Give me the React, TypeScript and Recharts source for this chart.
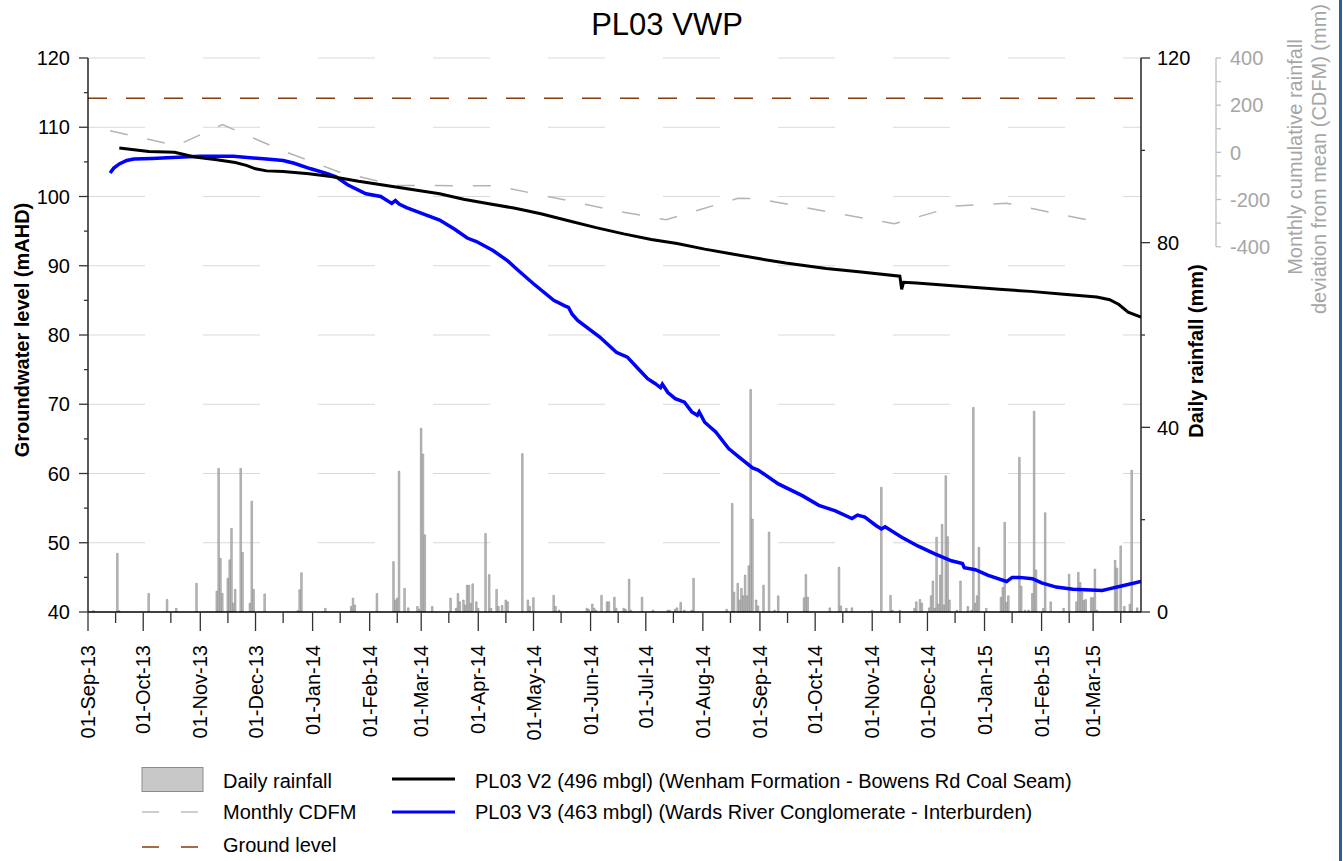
import React from "react";
import {
  ComposedChart,
  Bar,
  Line,
  XAxis,
  YAxis,
  CartesianGrid,
  ReferenceLine,
} from "recharts";

const FONT = "'Liberation Sans', Arial, Helvetica, sans-serif";

// x values are days counted from 01-Sep-13
const TICK_LABELS = [
  "01-Sep-13", "01-Oct-13", "01-Nov-13", "01-Dec-13", "01-Jan-14", "01-Feb-14",
  "01-Mar-14", "01-Apr-14", "01-May-14", "01-Jun-14", "01-Jul-14", "01-Aug-14",
  "01-Sep-14", "01-Oct-14", "01-Nov-14", "01-Dec-14", "01-Jan-15", "01-Feb-15",
  "01-Mar-15",
];
const LAST_DAY = 572;

const GROUND_LEVEL = 114.2;

// daily rainfall (mm): [day, mm]
const RAIN: [number, number][] = [
  [3, 0.3], [16, 12.7], [17, 0.3], [33, 4.0], [43, 2.7], [48, 0.8], [59, 6.2],
  [70, 4.5], [71, 31.1], [72, 11.6], [73, 4.0], [76, 7.3], [77, 11.3], [78, 18.1],
  [79, 1.9], [80, 4.9], [83, 31.1], [84, 12.9], [88, 1.9], [89, 24.0], [90, 4.9],
  [96, 3.9], [114, 0.3], [115, 4.8], [116, 8.5], [129, 0.8], [143, 1.2], [144, 3.0],
  [145, 1.5], [157, 4.0], [166, 10.9], [167, 2.6], [168, 3.0], [169, 30.5], [172, 5.1],
  [174, 0.9], [179, 1.2], [180, 0.6], [181, 39.8], [182, 34.2], [183, 16.7], [187, 1.2],
  [197, 3.0], [200, 0.8], [201, 4.0], [202, 2.2], [204, 2.6], [205, 1.5], [206, 5.8],
  [207, 5.8], [208, 1.9], [209, 6.1], [211, 2.2], [212, 0.8], [216, 17.0], [218, 8.1],
  [219, 0.8], [222, 4.9], [223, 1.2], [225, 1.4], [227, 2.6], [228, 2.2], [236, 34.3],
  [239, 2.6], [240, 1.2], [242, 3.1], [253, 3.6], [254, 1.2], [256, 0.4], [271, 0.8],
  [272, 0.6], [274, 1.7], [275, 0.8], [276, 0.4], [279, 3.6], [282, 2.2], [283, 2.2],
  [286, 3.2], [287, 0.8], [291, 0.8], [292, 0.6], [294, 7.1], [295, 0.4], [301, 3.2],
  [307, 0.4], [315, 0.4], [316, 0.4], [319, 0.6], [320, 0.9], [322, 2.1], [324, 0.4],
  [328, 0.4], [329, 7.3], [347, 0.6], [350, 23.5], [351, 4.3], [353, 6.2], [354, 2.6],
  [355, 5.1], [356, 3.5], [357, 8.0], [358, 3.5], [359, 10.0], [360, 48.2], [361, 20.1],
  [363, 2.6], [364, 1.3], [367, 5.8], [370, 17.3], [373, 0.4], [375, 3.5], [389, 3.1],
  [390, 8.1], [391, 3.2], [403, 0.9], [408, 9.7], [409, 1.3], [412, 0.8], [415, 0.9],
  [426, 0.4], [431, 27.0], [436, 3.6], [437, 0.4], [441, 0.4], [449, 0.8], [450, 2.2],
  [452, 2.7], [453, 1.9], [457, 0.9], [458, 3.5], [459, 6.7], [460, 0.8], [461, 16.2],
  [462, 1.7], [463, 8.0], [464, 19.0], [465, 1.5], [466, 29.5], [467, 16.3], [468, 2.6],
  [472, 0.4], [474, 6.7], [478, 1.2], [480, 0.4], [481, 44.3], [482, 1.9], [483, 3.5],
  [484, 14.0], [488, 0.8], [496, 3.2], [497, 5.3], [498, 19.4], [499, 2.1], [500, 3.5],
  [506, 33.5], [507, 5.6], [509, 0.4], [511, 0.4], [513, 4.0], [514, 43.5], [515, 9.1],
  [519, 0.8], [520, 21.5], [523, 2.2], [530, 0.8], [533, 8.2], [537, 2.2], [538, 8.6],
  [539, 6.4], [540, 4.3], [541, 2.5], [542, 2.7], [545, 3.1], [546, 3.1], [547, 9.3],
  [548, 0.4], [558, 11.2], [559, 9.5], [561, 14.3], [563, 1.2], [566, 1.7], [567, 30.7],
  [570, 0.9],
];

// PL03 V2 groundwater level (mAHD)
const V2: [number, number][] = [
  [17, 107.0], [33, 106.5], [47, 106.4], [58, 105.7], [70, 105.3], [80, 104.9],
  [86, 104.5], [91, 104.0], [97, 103.7], [106, 103.6], [120, 103.3], [132, 102.9],
  [147, 102.2], [162, 101.6], [176, 101.0], [191, 100.4], [204, 99.6], [217, 99.0],
  [232, 98.3], [246, 97.5], [261, 96.5], [276, 95.5], [291, 94.6], [306, 93.8],
  [320, 93.2], [335, 92.4], [350, 91.7], [365, 91.0], [379, 90.4], [390, 90.0],
  [401, 89.6], [420, 89.1], [441, 88.5], [442, 86.6], [443, 87.6], [450, 87.5],
  [475, 87.0], [495, 86.6], [512, 86.3], [530, 85.9], [548, 85.5], [555, 85.1],
  [560, 84.4], [565, 83.3], [572, 82.6],
];

// PL03 V3 groundwater level (mAHD)
const V3: [number, number][] = [
  [12, 103.4], [14, 104.1], [17, 104.7], [21, 105.2], [25, 105.4], [35, 105.5],
  [43, 105.6], [61, 105.8], [79, 105.8], [97, 105.4], [106, 105.2], [112, 104.8],
  [121, 104.0], [130, 103.3], [135, 102.8], [141, 101.7], [151, 100.4], [159, 100.0],
  [165, 99.0], [167, 99.4], [169, 98.9], [173, 98.4], [182, 97.5], [191, 96.6],
  [199, 95.3], [206, 94.0], [211, 93.5], [220, 92.2], [228, 90.7], [233, 89.5],
  [242, 87.4], [253, 85.0], [259, 84.2], [261, 84.0], [263, 83.0], [266, 82.1],
  [278, 79.7], [287, 77.5], [293, 76.8], [299, 75.1], [304, 73.7], [308, 73.0],
  [311, 72.4], [312, 72.9], [315, 71.7], [319, 70.8], [324, 70.3], [328, 68.9],
  [331, 68.4], [332, 68.9], [335, 67.4], [341, 66.0], [348, 63.6], [354, 62.3],
  [361, 60.8], [364, 60.5], [375, 58.5], [388, 56.8], [397, 55.4], [406, 54.6],
  [415, 53.5], [418, 54.0], [422, 53.7], [428, 52.5], [431, 52.0], [433, 52.3],
  [442, 50.8], [451, 49.5], [460, 48.4], [469, 47.4], [475, 47.0], [476, 46.4],
  [482, 46.1], [489, 45.3], [499, 44.4], [502, 45.0], [506, 45.0], [513, 44.8],
  [518, 44.2], [526, 43.6], [535, 43.3], [551, 43.1], [554, 43.3], [562, 43.8],
  [572, 44.4],
];

// monthly cumulative deviation from mean rainfall (mm)
const CDFM: [number, number][] = [
  [12, 92], [48, 28], [73, 118], [105, 9], [136, -82], [167, -140], [222, -142],
  [256, -197], [287, -248], [314, -286], [353, -195], [363, -196], [438, -303],
  [471, -228], [499, -216], [550, -298],
];

const GW_TICKS = [40, 45, 50, 55, 60, 65, 70, 75, 80, 85, 90, 95, 100, 105, 110, 115, 120];
const GW_GRID = [50, 60, 70, 80, 90, 100, 110, 120];
const RAIN_TICKS = [0, 20, 40, 60, 80, 100, 120];
const CDFM_TICKS = [-400, -300, -200, -100, 0, 100, 200, 300, 400];

// plot layout
const W = 1343;
const H = 861;
const PLOT_TOP = 58;
const PLOT_BOTTOM = 612;
const PLOT_H = PLOT_BOTTOM - PLOT_TOP;
// the CDFM axis only uses the upper part of the plot height
const CDFM_AXIS_H = 188.7;
const CDFM_MIN = 400 - (800 * PLOT_H) / CDFM_AXIS_H;
const CDFM_STEP_PX = (100 * CDFM_AXIS_H) / 800;

const MON: Record<string, number> = {
  Jan: 0, Feb: 1, Mar: 2, Apr: 3, May: 4, Jun: 5,
  Jul: 6, Aug: 7, Sep: 8, Oct: 9, Nov: 10, Dec: 11,
};
const START = Date.UTC(2013, 8, 1);
function labelToDay(s: string) {
  const [d, m, y] = s.split("-");
  return Math.round((Date.UTC(2000 + Number(y), MON[m], Number(d)) - START) / 86400000);
}

const MAJOR = TICK_LABELS.map(labelToDay);
const MINOR = MAJOR.map((d) => d + 15).filter((d) => d <= LAST_DAY);
const X_TICKS = [...MAJOR, ...MINOR].sort((a, b) => a - b);
const LABEL_AT = new Map(MAJOR.map((d, i) => [d, TICK_LABELS[i]]));

type Row = { day: number; rain?: number; v2?: number; v3?: number; cdfm?: number };
const rows: Row[] = Array.from({ length: LAST_DAY + 1 }, (_, day) => ({ day }));
RAIN.forEach(([d, v]) => (rows[d].rain = v));
V2.forEach(([d, v]) => (rows[d].v2 = v));
V3.forEach(([d, v]) => (rows[d].v3 = v));
CDFM.forEach(([d, v]) => (rows[d].cdfm = v));

function XTick(props: any) {
  const { x, y, payload } = props;
  const label = LABEL_AT.get(payload.value);
  const ty = y + 33;
  return (
    <g>
      <line x1={x} x2={x} y1={y} y2={y + (label ? 19 : 11)} stroke="#333" strokeWidth={1.3} />
      {label && (
        <text
          x={x}
          y={ty}
          dy="0.36em"
          transform={`rotate(-90 ${x} ${ty})`}
          textAnchor="end"
          fontSize={20}
          fontFamily={FONT}
          fill="#000"
        >
          {label}
        </text>
      )}
    </g>
  );
}

function LeftTick(props: any) {
  const { x, y, payload } = props;
  const major = payload.value % 10 === 0;
  return (
    <g>
      <line x1={x - (major ? 9 : 4)} x2={x} y1={y} y2={y} stroke="#333" strokeWidth={1.3} />
      {major && (
        <text x={x - 18} y={y} dy="0.36em" textAnchor="end" fontSize={20} fontFamily={FONT} fill="#000">
          {payload.value}
        </text>
      )}
    </g>
  );
}

function RainTick(props: any) {
  const { x, y, payload } = props;
  const major = payload.value % 40 === 0;
  return (
    <g>
      <line x1={x} x2={x + (major ? 9 : 4)} y1={y} y2={y} stroke="#333" strokeWidth={1.3} />
      {major && (
        <text x={x + 16} y={y} dy="0.36em" textAnchor="start" fontSize={20} fontFamily={FONT} fill="#000">
          {payload.value}
        </text>
      )}
    </g>
  );
}

function CdfmTick(props: any) {
  const { x, y, payload } = props;
  const v = payload.value;
  return (
    <g>
      {v > -400 && <line x1={x} x2={x} y1={y} y2={y + CDFM_STEP_PX} stroke="#bfbfbf" strokeWidth={1.3} />}
      <line x1={x} x2={x + 5} y1={y} y2={y} stroke="#bfbfbf" strokeWidth={1.3} />
      {v % 200 === 0 && (
        <text x={x + 14} y={y} dy="0.36em" textAnchor="start" fontSize={20} fontFamily={FONT} fill="#a6a6a6">
          {v}
        </text>
      )}
    </g>
  );
}

function Overlay() {
  const t = { fontFamily: FONT, fontSize: 20 };
  return (
    <svg width={W} height={H} style={{ position: "absolute", left: 0, top: 0, pointerEvents: "none" }}>
      <text x={667} y={35} textAnchor="middle" fontFamily={FONT} fontSize={31} fill="#000">
        PL03 VWP
      </text>
      <text x={29} y={330} transform="rotate(-90 29 330)" textAnchor="middle" {...t} fontWeight="bold">
        Groundwater level (mAHD)
      </text>
      <text x={1203} y={351} transform="rotate(-90 1203 351)" textAnchor="middle" {...t} fontWeight="bold">
        Daily rainfall (mm)
      </text>
      <text x={1302} y={157} transform="rotate(-90 1302 157)" textAnchor="middle" {...t} fill="#a6a6a6">
        Monthly cumulative rainfall
      </text>
      <text x={1326} y={159} transform="rotate(-90 1326 159)" textAnchor="middle" {...t} fill="#a6a6a6">
        deviation from mean (CDFM) (mm)
      </text>

      {/* legend */}
      <rect x={142} y={767.5} width={61} height={24} fill="#c8c8c8" stroke="#8c8c8c" strokeWidth={1} />
      <text x={223} y={788} {...t}>Daily rainfall</text>
      <line x1={142} x2={198} y1={812} y2={812} stroke="#bfbfbf" strokeWidth={1.5} strokeDasharray="17 22" />
      <text x={223} y={819} {...t}>Monthly CDFM</text>
      <line x1={142} x2={198} y1={847} y2={847} stroke="#843c0c" strokeWidth={1.5} strokeDasharray="17 22" />
      <text x={223} y={852} {...t}>Ground level</text>
      <line x1={392} x2={455} y1={779} y2={779} stroke="#000" strokeWidth={3} />
      <text x={475} y={788} {...t}>PL03 V2 (496 mbgl) (Wenham Formation - Bowens Rd Coal Seam)</text>
      <line x1={392} x2={455} y1={812} y2={812} stroke="#0000ff" strokeWidth={3} />
      <text x={475} y={819} {...t}>PL03 V3 (463 mbgl) (Wards River Conglomerate - Interburden)</text>

      <rect x={1339} y={0} width={3} height={H} fill="#2f5b97" />
    </svg>
  );
}

export default function App() {
  return (
    <div
      style={{
        position: "absolute",
        left: 0,
        top: 0,
        width: W,
        height: H,
        background: "#fff",
        fontFamily: FONT,
      }}
    >
      <ComposedChart
        width={W}
        height={H}
        data={rows}
        margin={{ top: PLOT_TOP, right: 0, bottom: 109, left: 0 }}
      >
        <CartesianGrid
          yAxisId="gw"
          vertical={false}
          horizontalValues={GW_GRID}
          stroke="#d9d9d9"
          strokeDasharray="57 58"
        />
        <XAxis
          dataKey="day"
          type="number"
          domain={[0, LAST_DAY]}
          ticks={X_TICKS}
          interval={0}
          height={140}
          tickSize={0}
          tickMargin={0}
          tickLine={false}
          axisLine={{ stroke: "#000", strokeWidth: 1.3 }}
          tick={<XTick />}
          allowDataOverflow
        />
        <YAxis
          yAxisId="gw"
          orientation="left"
          domain={[40, 120]}
          ticks={GW_TICKS}
          interval={0}
          width={88}
          tickSize={0}
          tickMargin={0}
          tickLine={false}
          axisLine={{ stroke: "#000", strokeWidth: 1.3 }}
          tick={<LeftTick />}
          allowDataOverflow
        />
        <YAxis
          yAxisId="r1rain"
          orientation="right"
          domain={[0, 120]}
          ticks={RAIN_TICKS}
          interval={0}
          width={75}
          tickSize={0}
          tickMargin={0}
          tickLine={false}
          axisLine={{ stroke: "#000", strokeWidth: 1.3 }}
          tick={<RainTick />}
          allowDataOverflow
        />
        <YAxis
          yAxisId="r2cdfm"
          orientation="right"
          domain={[CDFM_MIN, 400]}
          ticks={CDFM_TICKS}
          interval={0}
          width={127}
          tickSize={0}
          tickMargin={0}
          tickLine={false}
          axisLine={false}
          tick={<CdfmTick />}
          allowDataOverflow
        />
        <Bar
          dataKey="rain"
          yAxisId="r1rain"
          barSize={2}
          fill="#bdbdbd"
          stroke="#808080"
          strokeWidth={0.5}
          isAnimationActive={false}
        />
        <Line
          dataKey="cdfm"
          yAxisId="r2cdfm"
          type="linear"
          stroke="#b4b4b4"
          strokeWidth={1.5}
          strokeDasharray="18 20"
          dot={false}
          activeDot={false}
          connectNulls
          isAnimationActive={false}
        />
        <ReferenceLine
          y={GROUND_LEVEL}
          yAxisId="gw"
          stroke="#843c0c"
          strokeWidth={1.5}
          strokeDasharray="19 19"
        />
        <Line
          dataKey="v3"
          yAxisId="gw"
          type="linear"
          stroke="#0000ff"
          strokeWidth={3.5}
          dot={false}
          activeDot={false}
          connectNulls
          isAnimationActive={false}
        />
        <Line
          dataKey="v2"
          yAxisId="gw"
          type="linear"
          stroke="#000"
          strokeWidth={3}
          dot={false}
          activeDot={false}
          connectNulls
          isAnimationActive={false}
        />
      </ComposedChart>
      <Overlay />
    </div>
  );
}
